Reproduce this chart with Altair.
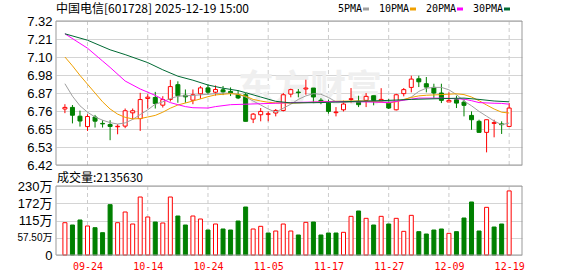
import altair as alt
import pandas as pd

# ---------------- data ----------------
stock_name = "中国电信"
stock_code = "601728"
stamp = "2025-12-19 15:00"
last_volume = 2135630

opens = [6.77, 6.78, 6.725, 6.66, 6.72, 6.68, 6.673, 6.659, 6.663, 6.746,
         6.71, 6.836, 6.842, 6.794, 6.83, 6.922, 6.856, 6.825, 6.865, 6.902,
         6.875, 6.89, 6.88, 6.859, 6.859, 6.707, 6.734, 6.737, 6.745, 6.761,
         6.863, 6.876, 6.895, 6.901, 6.825, 6.807, 6.747, 6.765, 6.830, 6.818,
         6.824, 6.853, 6.82, 6.807, 6.765, 6.866, 6.905, 6.959, 6.928, 6.905,
         6.87, 6.814, 6.828, 6.813, 6.73, 6.693, 6.624, 6.68, 6.677, 6.661]
highs = [6.80, 6.795, 6.76, 6.737, 6.733, 6.70, 6.70, 6.675, 6.773, 6.773,
         6.871, 6.862, 6.877, 6.85, 6.952, 6.943, 6.892, 6.892, 6.913, 6.923,
         6.917, 6.914, 6.905, 6.887, 6.87, 6.745, 6.776, 6.755, 6.77, 6.87,
         6.897, 6.895, 6.953, 6.901, 6.838, 6.828, 6.782, 6.822, 6.901, 6.853,
         6.87, 6.853, 6.90, 6.832, 6.865, 6.901, 6.978, 6.978, 6.97, 6.928,
         6.928, 6.874, 6.853, 6.832, 6.755, 6.703, 6.703, 6.703, 6.693, 6.807]
lows = [6.744, 6.68, 6.66, 6.633, 6.654, 6.654, 6.575, 6.612, 6.65, 6.706,
        6.633, 6.773, 6.773, 6.779, 6.817, 6.809, 6.809, 6.80, 6.834, 6.861,
        6.854, 6.857, 6.851, 6.832, 6.693, 6.682, 6.693, 6.693, 6.724, 6.755,
        6.843, 6.843, 6.859, 6.807, 6.80, 6.741, 6.724, 6.755, 6.807, 6.782,
        6.782, 6.793, 6.815, 6.77, 6.761, 6.849, 6.874, 6.907, 6.874, 6.839,
        6.807, 6.814, 6.776, 6.724, 6.64, 6.624, 6.499, 6.593, 6.614, 6.661]
closes = [6.78, 6.731, 6.695, 6.723, 6.694, 6.677, 6.661, 6.662, 6.759, 6.759,
          6.829, 6.844, 6.804, 6.829, 6.91, 6.853, 6.846, 6.859, 6.902, 6.875,
          6.892, 6.877, 6.868, 6.839, 6.693, 6.738, 6.755, 6.740, 6.761, 6.859,
          6.891, 6.872, 6.901, 6.845, 6.812, 6.755, 6.751, 6.801, 6.834, 6.797,
          6.849, 6.824, 6.83, 6.776, 6.859, 6.891, 6.957, 6.94, 6.907, 6.87,
          6.824, 6.824, 6.807, 6.793, 6.703, 6.624, 6.703, 6.685, 6.672, 6.776]

# volume in 万 (10k shares)
volumes = [107.7, 100, 116.7, 96.7, 91, 74.4, 167.8, 107.7, 143.3, 103.3,
           193.3, 126.7, 110, 106.7, 193.3, 130, 100, 130, 120, 83.3,
           103.3, 86.7, 83.3, 113.3, 160, 86.7, 95.6, 73.3, 80, 103.3,
           80, 66.7, 108.9, 110, 66.7, 73.3, 73.3, 75.6, 128.9, 146.7,
           122.2, 100, 128.9, 103.3, 122.2, 78.9, 132.2, 77.8, 70, 83.3,
           86.7, 72.2, 77.8, 123.3, 176.7, 80, 158.9, 93.3, 103.3, 213.6]
vol_up = [1, 0, 0, 1, 0, 0, 0, 1, 1, 1,
          1, 1, 0, 1, 1, 0, 0, 1, 1, 0,
          1, 0, 0, 0, 0, 1, 1, 0, 1, 1,
          1, 0, 1, 0, 0, 0, 0, 1, 1, 0,
          1, 0, 1, 0, 1, 1, 1, 0, 0, 0,
          0, 1, 0, 0, 0, 0, 1, 0, 0, 1]

ma5_idx = [0, 1, 2, 3, 4, 5, 6, 7, 8, 9, 10, 11, 12, 13, 14, 15, 17, 19, 21, 22, 23, 24, 25, 26, 27, 28, 29,
           30, 31, 32, 33, 34, 35, 36, 37, 38, 40, 42, 44, 45, 46, 47, 48, 49, 50, 51, 52, 53, 54, 55, 56, 57, 58, 59]
ma5_val = [6.928, 6.85, 6.79, 6.75, 6.72, 6.70, 6.685, 6.676, 6.683, 6.705, 6.735, 6.765, 6.80, 6.815, 6.835,
           6.85, 6.855, 6.862, 6.87, 6.868, 6.862, 6.845, 6.82, 6.795, 6.77, 6.75, 6.775,
           6.80, 6.83, 6.852, 6.866, 6.862, 6.842, 6.815, 6.81, 6.813, 6.817, 6.818, 6.82, 6.826, 6.845, 6.88,
           6.90, 6.905, 6.905, 6.89, 6.86, 6.82, 6.79, 6.755, 6.725, 6.695, 6.672, 6.682]
ma10_idx = [0, 1, 2, 3, 4, 5, 6, 7, 8, 9, 10, 11, 12, 13, 14, 15, 17, 18, 19, 20, 22, 23, 24, 25, 26, 27, 28,
            30, 32, 34, 36, 38, 40, 42, 43, 44, 45, 46, 47, 48, 50, 52, 53, 54, 55, 56, 57, 58, 59]
ma10_val = [7.095, 7.04, 6.98, 6.925, 6.87, 6.815, 6.77, 6.738, 6.718, 6.708, 6.71, 6.72, 6.73, 6.75, 6.775,
            6.795, 6.82, 6.833, 6.847, 6.858, 6.866, 6.862, 6.85, 6.83, 6.82, 6.812, 6.808,
            6.807, 6.81, 6.815, 6.818, 6.82, 6.82, 6.812, 6.808, 6.815, 6.83, 6.842, 6.852, 6.856,
            6.86, 6.865, 6.86, 6.845, 6.822, 6.795, 6.77, 6.75, 6.745]
ma20_idx = [0, 2, 3, 5, 6, 8, 10, 11, 12, 13, 14, 15, 16, 17, 19, 20, 22, 24, 26, 28, 30, 34, 38, 42, 43,
            45, 47, 50, 53, 54, 55, 57, 58, 59]
ma20_val = [7.24, 7.18, 7.15, 7.07, 7.03, 6.945, 6.895, 6.875, 6.855, 6.83, 6.81, 6.797, 6.785, 6.778,
            6.776, 6.785, 6.797, 6.80, 6.803, 6.806, 6.81, 6.815, 6.817, 6.812, 6.81,
            6.825, 6.838, 6.838, 6.832, 6.822, 6.81, 6.806, 6.805, 6.80]
ma30_idx = [0, 3, 6, 8, 11, 13, 15, 17, 19, 21, 23, 24, 26, 28, 30, 34, 38, 42, 46, 50, 53, 55, 57, 59]
ma30_val = [7.24, 7.20, 7.14, 7.11, 7.06, 7.015, 6.975, 6.95, 6.92, 6.90, 6.885, 6.872, 6.845, 6.818,
            6.808, 6.81, 6.817, 6.822, 6.83, 6.835, 6.838, 6.83, 6.82, 6.815]

ma_names = ["5PMA", "10PMA", "20PMA", "30PMA"]
ma_colors = ["#a0a0a0", "#f0a000", "#ff00ff", "#006a33"]

tick_idx = [3, 11, 19, 27, 35, 43, 51, 59]
tick_lbl = ["09-24", "10-14", "10-24", "11-05", "11-17", "11-27", "12-09", "12-19"]
price_ticks = [7.32, 7.2075, 7.095, 6.9825, 6.87, 6.7575, 6.645, 6.5325, 6.42]
price_lbls = ["7.32", "7.21", "7.10", "6.98", "6.87", "6.76", "6.65", "6.53", "6.42"]
vol_ticks = [230, 172.5, 115, 57.5, 0]
vol_lbls = ["230万", "172万", "115万", "57.50万", "0"]

# ---------------- layout constants ----------------
W, H = 466, 234
RED = "#ff0000"
GREEN = "#008000"
GRID = "#d4d4d4"
BORDER = "#999999"
x_scale = alt.Scale(domain=[-0.52, 60.04], nice=False, zero=False)
p_scale = alt.Scale(domain=[5.8575, 7.32], nice=False, zero=False)
v_scale = alt.Scale(domain=[0, 780], nice=False, zero=False)


def label_expr(vals, lbls):
    expr = "''"
    for v, l in reversed(list(zip(vals, lbls))):
        expr = f"datum.value == {v} ? '{l}' : ({expr})"
    return expr


cdf = pd.DataFrame({"idx": list(range(len(opens))), "o": opens, "h": highs, "l": lows,
                    "c": closes, "v": volumes, "up": vol_up})
ma_df = pd.concat([
    pd.DataFrame({"idx": ma5_idx, "val": ma5_val, "ma": "5PMA"}),
    pd.DataFrame({"idx": ma10_idx, "val": ma10_val, "ma": "10PMA"}),
    pd.DataFrame({"idx": ma20_idx, "val": ma20_val, "ma": "20PMA"}),
    pd.DataFrame({"idx": ma30_idx, "val": ma30_val, "ma": "30PMA"}),
])
tick_df = pd.DataFrame({"idx": tick_idx})
one = pd.DataFrame({"idx": [0],
                    "title": [f"{stock_name}[{stock_code}] {stamp}"],
                    "vlab": [f"成交量:{last_volume}"],
                    "wm": ["东方财富"]})

price_axis = alt.Axis(values=price_ticks, labelExpr=label_expr(price_ticks, price_lbls),
                      grid=True, gridColor=GRID, domain=False, ticks=False, labelPadding=4,
                      labelFont="Liberation Sans", labelFontSize=13, labelColor="#000",
                      labelOverlap=False, title=None, orient="left")
vol_axis = alt.Axis(values=vol_ticks, labelExpr=label_expr(vol_ticks, vol_lbls), orient="left",
                    grid=True, gridColor=GRID, domain=False, ticks=False, labelPadding=4,
                    labelFont="Liberation Sans, Noto Sans CJK SC",
                    labelFontSize={"condition": {"test": "datum.value == 57.5", "value": 10}, "value": 13},
                    labelColor="#000", labelOverlap=False, title=None)
x_axis = alt.Axis(values=tick_idx, labelExpr=label_expr(tick_idx, tick_lbl), grid=False,
                  domain=False, ticks=False, labelPadding=6, labelColor=RED,
                  labelFont="DejaVu Sans Mono", labelFontSize=10, labelFlush=False,
                  labelOverlap=False, title=None, orient="bottom")

X = lambda: alt.X("idx:Q", scale=x_scale, axis=x_axis)
PY = lambda f: alt.Y(f, scale=p_scale, axis=price_axis)
VY = lambda f: alt.Y(f, scale=v_scale, axis=vol_axis, stack=None)
up_cond = "datum.c >= datum.o"

# ---------------- price panel ----------------
vgrid_p = alt.Chart(tick_df).mark_rule(color="#cccccc", strokeDash=[4, 3]).encode(
    x=X(), y=alt.YDatum(7.32, scale=p_scale, axis=price_axis), y2=alt.Y2Datum(6.42))
watermark = alt.Chart(one).mark_text(font="Noto Sans CJK SC", fontSize=36, fontWeight="bold",
                                     color="#efefef").encode(
    x=alt.value(254), y=alt.value(69), text="wm:N")
wick = alt.Chart(cdf).mark_rule(strokeWidth=1).encode(
    x=X(), y=PY("l:Q"), y2="h:Q",
    color=alt.condition(up_cond, alt.value(RED), alt.value(GREEN)))
body = alt.Chart(cdf).mark_bar(size=4, strokeWidth=1).encode(
    x=X(), y=PY("o:Q"), y2="c:Q",
    fill=alt.condition(up_cond, alt.value("#ffffff"), alt.value(GREEN)),
    stroke=alt.condition(up_cond, alt.value(RED), alt.value(GREEN)))
ma_lines = alt.Chart(ma_df).mark_line(strokeWidth=1).encode(
    x=X(), y=PY("val:Q"),
    color=alt.Color("ma:N", scale=alt.Scale(domain=ma_names, range=ma_colors),
                    legend=alt.Legend(orient="none", legendX=305, legendY=-17, direction="horizontal",
                                      title=None, symbolType="stroke", symbolSize=36,
                                      symbolStrokeWidth=3, labelFont="DejaVu Sans Mono",
                                      labelFontSize=10, labelColor="#000", labelAlign="right",
                                      labelOffset={"expr": "-9"}, columnPadding=3, padding=0)),
    order="idx:Q")
border_p = alt.Chart(one).mark_rect(fillOpacity=0, stroke=BORDER, strokeWidth=1).encode(
    x=alt.value(0), x2=alt.value(W),
    y=alt.YDatum(7.32, scale=p_scale, axis=price_axis), y2=alt.Y2Datum(6.42))
title_txt = alt.Chart(one).mark_text(align="left", baseline="middle", font="Noto Sans CJK SC",
                                     fontSize=12, color="#000").encode(
    x=alt.value(0), y=alt.value(-12), text="title:N")

price = alt.layer(vgrid_p, watermark, wick, body, ma_lines, border_p, title_txt)

# ---------------- volume panel ----------------
vgrid_v = alt.Chart(tick_df).mark_rule(color="#cccccc", strokeDash=[4, 3]).encode(
    x=X(), y=alt.YDatum(230, scale=v_scale, axis=vol_axis), y2=alt.Y2Datum(0))
vbars = alt.Chart(cdf).mark_bar(size=4, strokeWidth=1).encode(
    x=X(), y=VY("v:Q"),
    fill=alt.condition("datum.up == 1", alt.value("#ffffff"), alt.value(GREEN)),
    stroke=alt.condition("datum.up == 1", alt.value(RED), alt.value(GREEN)))
border_v = alt.Chart(one).mark_rect(fillOpacity=0, stroke=BORDER, strokeWidth=1).encode(
    x=alt.value(0), x2=alt.value(W),
    y=alt.YDatum(230, scale=v_scale, axis=vol_axis), y2=alt.Y2Datum(0))
vlabel = alt.Chart(one).mark_text(align="left", baseline="middle", font="Noto Sans CJK SC",
                                  fontSize=12, color="#000").encode(
    x=alt.value(1), y=alt.value(157), text="vlab:N")

volume = alt.layer(vgrid_v, vbars, border_v, vlabel)

chart = alt.layer(price, volume).resolve_scale(y="independent").properties(
    width=W, height=H,
    padding={"left": 56, "top": 21, "right": 56, "bottom": 21},
    autosize=alt.AutoSizeParams(type="none"),
    background="white",
).configure_view(stroke=None)

chart.save("out.html", embed_options={"renderer": "svg", "actions": False})
